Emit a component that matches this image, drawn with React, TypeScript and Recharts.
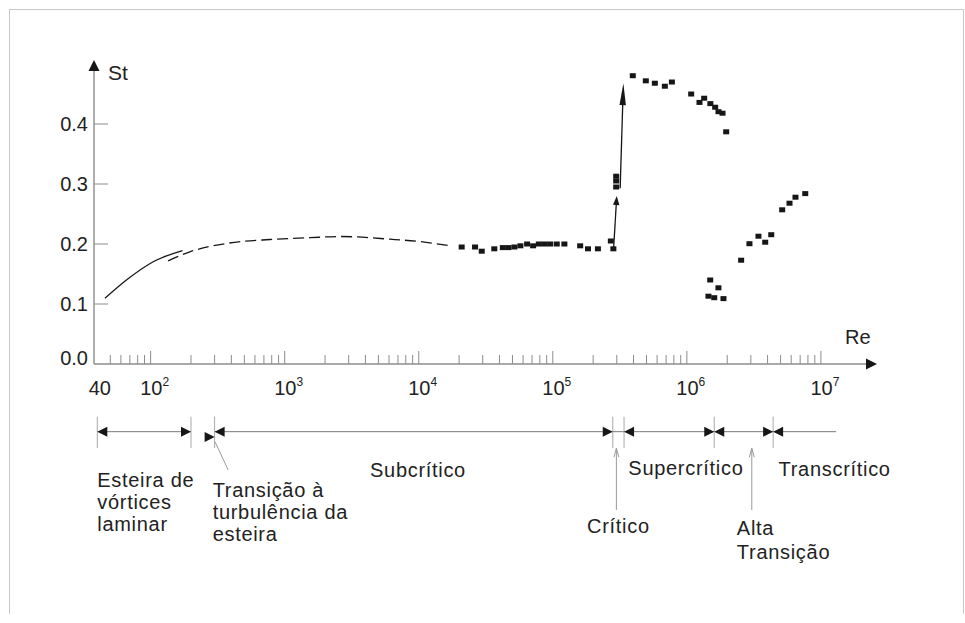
import React from 'react';
import {
  ComposedChart,
  XAxis,
  YAxis,
  Line,
  Scatter,
  ReferenceLine,
  ReferenceDot,
} from 'recharts';

const FONT = '"Liberation Sans", Arial, Helvetica, sans-serif';
const AXIS_COLOR = '#8c8c8c';
const INK = '#161616';
const TEXT = '#222222';
const GUIDE = '#9a9a9a';

// ---------- axes ----------
const X_DOMAIN: [number, number] = [37.8, 2.62e7];
const Y_DOMAIN: [number, number] = [0, 0.5067];

const decadeTicks = [1e2, 1e3, 1e4, 1e5, 1e6, 1e7];
const decadeExponents = ['2', '3', '4', '5', '6', '7'];
const minorMultipliers = [2, 3, 4, 5, 6, 7, 8, 9];
const lowMinorTicks = [50, 60, 70, 80, 90];
const startLabelTick = 40;
const yTicks = [0, 0.1, 0.2, 0.3, 0.4];

const xTicks = [
  startLabelTick,
  ...lowMinorTicks,
  ...decadeTicks.flatMap((d, i) =>
    i < decadeTicks.length - 1 ? [d, ...minorMultipliers.map((m) => m * d)] : [d]
  ),
];

// ---------- series ----------
// laminar vortex street (solid curve)
const laminarRe = [45.6, 66, 104.5, 173];
const laminarSt = [0.1095, 0.14, 0.1705, 0.189];

// subcritical trend (dashed curve)
const subcriticalRe = [135, 196, 369, 776, 1545, 2588, 6109, 10233, 17140];
const subcriticalSt = [0.172, 0.187, 0.201, 0.2075, 0.2105, 0.2125, 0.208, 0.204, 0.197];

// measured points (squares)
const measuredRe = [
  2.09e4, 2.63e4, 2.95e4, 3.66e4, 4.24e4, 4.67e4, 5.17e4, 5.73e4, 6.43e4, 7.13e4,
  7.87e4, 8.66e4, 9.55e4, 1.07e5, 1.22e5, 1.6e5, 1.83e5, 2.17e5, 2.71e5, 2.83e5,
  2.97e5, 2.97e5, 2.97e5,
  3.95e5, 4.94e5, 5.77e5, 6.85e5, 7.73e5,
  1.077e6, 1.242e6, 1.346e6, 1.497e6, 1.626e6, 1.721e6, 1.845e6, 1.965e6,
  1.493e6, 1.72e6, 1.449e6, 1.6e6, 1.875e6,
  2.54e6, 2.93e6, 3.42e6, 3.84e6, 4.26e6, 5.14e6, 5.83e6, 6.46e6, 7.64e6,
];
const measuredSt = [
  0.195, 0.195, 0.188, 0.192, 0.194, 0.194, 0.195, 0.197, 0.2, 0.197,
  0.2, 0.2, 0.2, 0.2, 0.2, 0.197, 0.192, 0.192, 0.205, 0.192,
  0.313, 0.305, 0.295,
  0.4805, 0.472, 0.468, 0.463, 0.47,
  0.45, 0.436, 0.443, 0.434, 0.428, 0.4205, 0.418, 0.387,
  0.14, 0.127, 0.113, 0.1105, 0.109,
  0.173, 0.2005, 0.213, 0.203, 0.2155, 0.257, 0.268, 0.278, 0.284,
];

// jump arrows in the critical regime
const jumpArrowFromRe = [2.84e5, 3.18e5];
const jumpArrowFromSt = [0.192, 0.293];
const jumpArrowToRe = [3.0e5, 3.36e5];
const jumpArrowToSt = [0.28, 0.468];

// flow regimes (below the axis)
const regimeBounds = [40, 200, 300, 2.8e5, 3.4e5, 1.6e6, 4.4e6];
const regimeEnd = 1.3e7;

const laminar = laminarRe.map((re, i) => ({ re, st: laminarSt[i] }));
const subcritical = subcriticalRe.map((re, i) => ({ re, st: subcriticalSt[i] }));
const measured = measuredRe.map((re, i) => ({ re, st: measuredSt[i] }));

// annotation layout (St units below zero = below the axis)
const BAR = -0.1128;
const SEP_TOP = -0.0878;
const SEP_BOTTOM = -0.14;

const regimeHeads: { re: number; dir: 1 | -1; st: number }[] = [
  { re: 40, dir: -1, st: BAR },
  { re: 200, dir: 1, st: BAR },
  { re: 300, dir: -1, st: BAR },
  { re: 300, dir: 1, st: -0.1217 },
  { re: 2.8e5, dir: 1, st: BAR },
  { re: 3.4e5, dir: -1, st: BAR },
  { re: 1.6e6, dir: 1, st: BAR },
  { re: 1.6e6, dir: -1, st: BAR },
  { re: 4.4e6, dir: 1, st: BAR },
  { re: 4.4e6, dir: -1, st: BAR },
];

const regimeLabels: { lines: string[]; re: number; st: number; gap: number }[] = [
  { lines: ['Esteira de', 'vórtices', 'laminar'], re: 40, st: -0.205, gap: 22 },
  { lines: ['Transição à', 'turbulência da', 'esteira'], re: 290, st: -0.2212, gap: 22 },
  { lines: ['Subcrítico'], re: 4330, st: -0.1878, gap: 22 },
  { lines: ['Supercrítico'], re: 3.66e5, st: -0.185, gap: 22 },
  { lines: ['Transcrítico'], re: 4.83e6, st: -0.1867, gap: 22 },
  { lines: ['Crítico'], re: 1.8e5, st: -0.2822, gap: 22 },
  { lines: ['Alta', 'Transição'], re: 2.36e6, st: -0.285, gap: 24 },
];

const pointerRe = [2.98e5, 3.05e6];

// ---------- shapes ----------
const XTick = (props: any) => {
  const { x, y, payload } = props;
  const v = payload.value;
  const di = decadeTicks.indexOf(v);
  if (v === startLabelTick) {
    return (
      <text x={x + 2.5} y={y + 31} textAnchor="middle" fontSize={20} fontFamily={FONT} fill={TEXT}>
        40
      </text>
    );
  }
  const len = di >= 0 ? 13 : 9;
  return (
    <g>
      <line x1={x} x2={x} y1={y} y2={y - len} stroke={AXIS_COLOR} strokeWidth={1} />
      {di >= 0 && (
        <text x={x - 10.5} y={y + 31} fontSize={20} fontFamily={FONT} fill={TEXT}>
          10
          <tspan dy={-9} fontSize={12}>
            {decadeExponents[di]}
          </tspan>
        </text>
      )}
    </g>
  );
};

const YTick = (props: any) => {
  const { x, y, payload } = props;
  const v = payload.value;
  return (
    <g>
      {v > 0 && <line x1={x} x2={x + 14} y1={y} y2={y} stroke={AXIS_COLOR} strokeWidth={1} />}
      <text
        x={x - 6}
        y={y + (v === 0 ? 1 : 7)}
        textAnchor="end"
        fontSize={20}
        fontFamily={FONT}
        fill={TEXT}
      >
        {v.toFixed(1)}
      </text>
    </g>
  );
};

const xAxisShape = (props: any) => {
  const { x1, y1, x2 } = props;
  const left = Math.min(x1, x2);
  const right = Math.max(x1, x2);
  return (
    <g>
      <line x1={left} x2={right - 8} y1={y1} y2={y1} stroke={AXIS_COLOR} strokeWidth={1.4} />
      <polygon points={`${right},${y1} ${right - 11},${y1 - 5.5} ${right - 11},${y1 + 5.5}`} fill={INK} />
    </g>
  );
};

const yAxisShape = (props: any) => {
  const { x1, y1, y2 } = props;
  const top = Math.min(y1, y2);
  const bottom = Math.max(y1, y2);
  return (
    <g>
      <line x1={x1} x2={x1} y1={bottom} y2={top + 8} stroke={AXIS_COLOR} strokeWidth={1.4} />
      <polygon points={`${x1},${top} ${x1 - 5.5},${top + 11} ${x1 + 5.5},${top + 11}`} fill={INK} />
      <text x={x1 + 14} y={top + 20} fontSize={21} fontFamily={FONT} fill={TEXT}>
        St
      </text>
    </g>
  );
};

const arrowShape = (headLen: number, headHalf: number) => (props: any) => {
  const { x1, y1, x2, y2 } = props;
  const dx = x2 - x1;
  const dy = y2 - y1;
  const L = Math.hypot(dx, dy) || 1;
  const ux = dx / L;
  const uy = dy / L;
  const bx = x2 - ux * headLen;
  const by = y2 - uy * headLen;
  const px = -uy;
  const py = ux;
  return (
    <g>
      <line x1={x1} y1={y1} x2={bx + ux * 2} y2={by + uy * 2} stroke={INK} strokeWidth={1.3} />
      <polygon
        points={`${x2},${y2} ${bx + px * headHalf},${by + py * headHalf} ${bx - px * headHalf},${by - py * headHalf}`}
        fill={INK}
      />
    </g>
  );
};

const plainLine = (color: string, width: number) => (props: any) => {
  const { x1, y1, x2, y2 } = props;
  return <line x1={x1} y1={y1} x2={x2} y2={y2} stroke={color} strokeWidth={width} />;
};

const pointerShape = (props: any) => {
  const { x1, y1, x2, y2 } = props;
  const top = Math.min(y1, y2);
  const bottom = Math.max(y1, y2);
  return (
    <g>
      <line x1={x1} y1={bottom} x2={x1} y2={top} stroke={GUIDE} strokeWidth={1} />
      <polyline
        points={`${x1 - 2.5},${top + 9} ${x1},${top} ${x1 + 2.5},${top + 9}`}
        fill="none"
        stroke={GUIDE}
        strokeWidth={1}
      />
    </g>
  );
};

const triangleShape = (dir: 1 | -1) => (props: any) => {
  const { cx, cy } = props;
  return (
    <polygon
      points={`${cx},${cy} ${cx - dir * 10},${cy - 5} ${cx - dir * 10},${cy + 5}`}
      fill={INK}
    />
  );
};

const labelShape = (lines: string[], gap: number) => (props: any) => {
  const { cx, cy } = props;
  return (
    <text x={cx} y={cy} fontSize={20} fontFamily={FONT} fill={TEXT} letterSpacing={0.7}>
      {lines.map((l, i) => (
        <tspan key={i} x={cx} dy={i === 0 ? 0 : gap}>
          {l}
        </tspan>
      ))}
    </text>
  );
};

const reLabelShape = (props: any) => {
  const { cx, cy } = props;
  return (
    <text x={cx - 32} y={cy - 20} fontSize={20} fontFamily={FONT} fill={TEXT}>
      Re
    </text>
  );
};

const Square = (props: any) => {
  const { cx, cy } = props;
  return <rect x={cx - 3} y={cy - 2.5} width={6} height={5} fill={INK} />;
};

export default function App() {
  return (
    <div style={{ position: 'absolute', left: 0, top: 0, width: 965, height: 623, background: '#fff' }}>
      <div
        style={{
          position: 'absolute',
          left: 9,
          top: 9,
          width: 953,
          height: 604,
          borderTop: '1px solid #c8c8c8',
          borderLeft: '1px solid #c8c8c8',
          borderRight: '1px solid #c8c8c8',
        }}
      />
      <div style={{ position: 'absolute', left: 0, top: 0 }}>
        <ComposedChart width={965} height={623} margin={{ top: 60, right: 88, bottom: 219, left: 44 }}>
          <XAxis
            dataKey="re"
            type="number"
            scale="log"
            domain={X_DOMAIN}
            allowDataOverflow
            ticks={xTicks}
            interval={0}
            tick={XTick}
            tickLine={false}
            axisLine={false}
            tickSize={0}
            tickMargin={0}
            height={40}
          />
          <YAxis
            dataKey="st"
            type="number"
            domain={Y_DOMAIN}
            allowDataOverflow
            ticks={yTicks}
            interval={0}
            tick={YTick}
            tickLine={false}
            axisLine={false}
            tickSize={0}
            tickMargin={0}
            width={50}
          />

          <ReferenceLine y={0} ifOverflow="visible" shape={xAxisShape} />
          <ReferenceLine x={X_DOMAIN[0]} ifOverflow="visible" shape={yAxisShape} />
          <ReferenceDot x={X_DOMAIN[1]} y={0} r={0} ifOverflow="visible" shape={reLabelShape} />

          <Line
            data={laminar}
            dataKey="st"
            type="monotone"
            stroke={INK}
            strokeWidth={1.3}
            dot={false}
            activeDot={false}
            isAnimationActive={false}
          />
          <Line
            data={subcritical}
            dataKey="st"
            type="monotone"
            stroke={INK}
            strokeWidth={1.3}
            strokeDasharray="11 5"
            dot={false}
            activeDot={false}
            isAnimationActive={false}
          />

          {jumpArrowFromRe.map((re, i) => (
            <ReferenceLine
              key={`jump-${i}`}
              ifOverflow="visible"
              segment={[
                { x: re, y: jumpArrowFromSt[i] },
                { x: jumpArrowToRe[i], y: jumpArrowToSt[i] },
              ]}
              shape={arrowShape(i === 0 ? 9 : 22, 3.2)}
            />
          ))}

          <Scatter data={measured} dataKey="st" shape={Square} isAnimationActive={false} />

          {/* flow regimes */}
          <ReferenceLine
            ifOverflow="visible"
            segment={[
              { x: regimeBounds[0], y: BAR },
              { x: regimeBounds[1], y: BAR },
            ]}
            shape={plainLine('#7a7a7a', 1)}
          />
          <ReferenceLine
            ifOverflow="visible"
            segment={[
              { x: regimeBounds[2], y: BAR },
              { x: regimeEnd, y: BAR },
            ]}
            shape={plainLine('#7a7a7a', 1)}
          />
          {regimeBounds.map((re, i) => (
            <ReferenceLine
              key={`sep-${i}`}
              ifOverflow="visible"
              segment={[
                { x: re, y: SEP_TOP },
                { x: re, y: SEP_BOTTOM },
              ]}
              shape={plainLine('#a8a8a8', 1)}
            />
          ))}
          {regimeHeads.map((h, i) => (
            <ReferenceDot
              key={`head-${i}`}
              x={h.re}
              y={h.st}
              r={0}
              ifOverflow="visible"
              shape={triangleShape(h.dir)}
            />
          ))}
          <ReferenceLine
            ifOverflow="visible"
            segment={[
              { x: 302, y: -0.1295 },
              { x: 379, y: -0.1767 },
            ]}
            shape={plainLine(GUIDE, 1)}
          />
          {pointerRe.map((re, i) => (
            <ReferenceLine
              key={`ptr-${i}`}
              ifOverflow="visible"
              segment={[
                { x: re, y: -0.2433 },
                { x: re, y: -0.1405 },
              ]}
              shape={pointerShape}
            />
          ))}
          {regimeLabels.map((l, i) => (
            <ReferenceDot
              key={`lab-${i}`}
              x={l.re}
              y={l.st}
              r={0}
              ifOverflow="visible"
              shape={labelShape(l.lines, l.gap)}
            />
          ))}
        </ComposedChart>
      </div>
    </div>
  );
}
